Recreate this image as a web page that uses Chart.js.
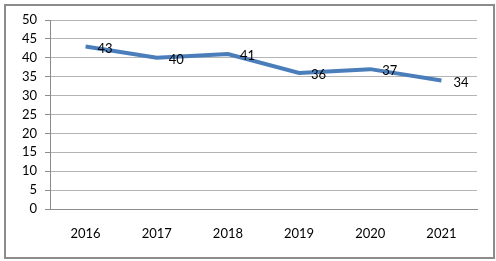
<!DOCTYPE html>
<html>
<head>
  <meta charset="UTF-8" />
  <script src="https://cdn.jsdelivr.net/npm/chart.js"></script>
  <style>
    body {
      margin: 0;
      padding: 0;
      background: #fff;
    }

    .frame {
      position: absolute;
      left: 4px;
      top: 4px;
      width: 487px;
      height: 251px;
      border: 2px solid #8c8c8c;
    }

    canvas {
      position: absolute;
      left: 0;
      top: 0;
    }
  </style>
</head>
<body>

  <div class="frame"></div>
  <canvas id="chart" width="496" height="261"></canvas>

  <script>
    const years = ['2016', '2017', '2018', '2019', '2020', '2021'];
    const values = [43, 40, 41, 36, 37, 34];

    // etiquetas a la derecha de cada punto, como en Excel
    const valueLabels = {
      id: 'valueLabels',
      afterDatasetsDraw(chart) {
        const ctx = chart.ctx;
        const meta = chart.getDatasetMeta(0);
        ctx.save();
        ctx.font = '13px Lato';
        ctx.fillStyle = '#000';
        ctx.textAlign = 'left';
        ctx.textBaseline = 'middle';
        meta.data.forEach((pt, i) => {
          ctx.fillText(values[i], pt.x + 12, pt.y + 2);
        });
        ctx.restore();
      }
    };

    const ctx = document.getElementById('chart').getContext('2d');
    new Chart(ctx, {
      type: 'line',
      data: {
        labels: years,
        datasets: [{
          data: values,
          borderColor: '#4a7ebb',
          borderWidth: 4,
          pointRadius: 0,
          tension: 0
        }]
      },
      options: {
        responsive: false,
        animation: false,
        layout: {
          padding: { left: 0, right: 19, top: 20, bottom: 0 }
        },
        plugins: {
          legend: { display: false },
          tooltip: { enabled: false }
        },
        scales: {
          x: {
            offset: true,
            grid: { display: false, drawTicks: false },
            border: { display: true, color: '#8c8c8c', width: 1 },
            ticks: { color: '#000', font: { family: 'Lato', size: 13 }, padding: 17 },
            afterFit(scale) { scale.height = 52; }
          },
          y: {
            min: 0,
            max: 50,
            ticks: { stepSize: 5, color: '#000', font: { family: 'Lato', size: 13 }, padding: 8 },
            grid: { color: '#b4b4b4', tickLength: 5, tickColor: '#8c8c8c' },
            border: { display: true, color: '#8c8c8c', width: 1 },
            afterFit(scale) { scale.width = 50; }
          }
        }
      },
      plugins: [valueLabels]
    });
  </script>
</body>
</html>
